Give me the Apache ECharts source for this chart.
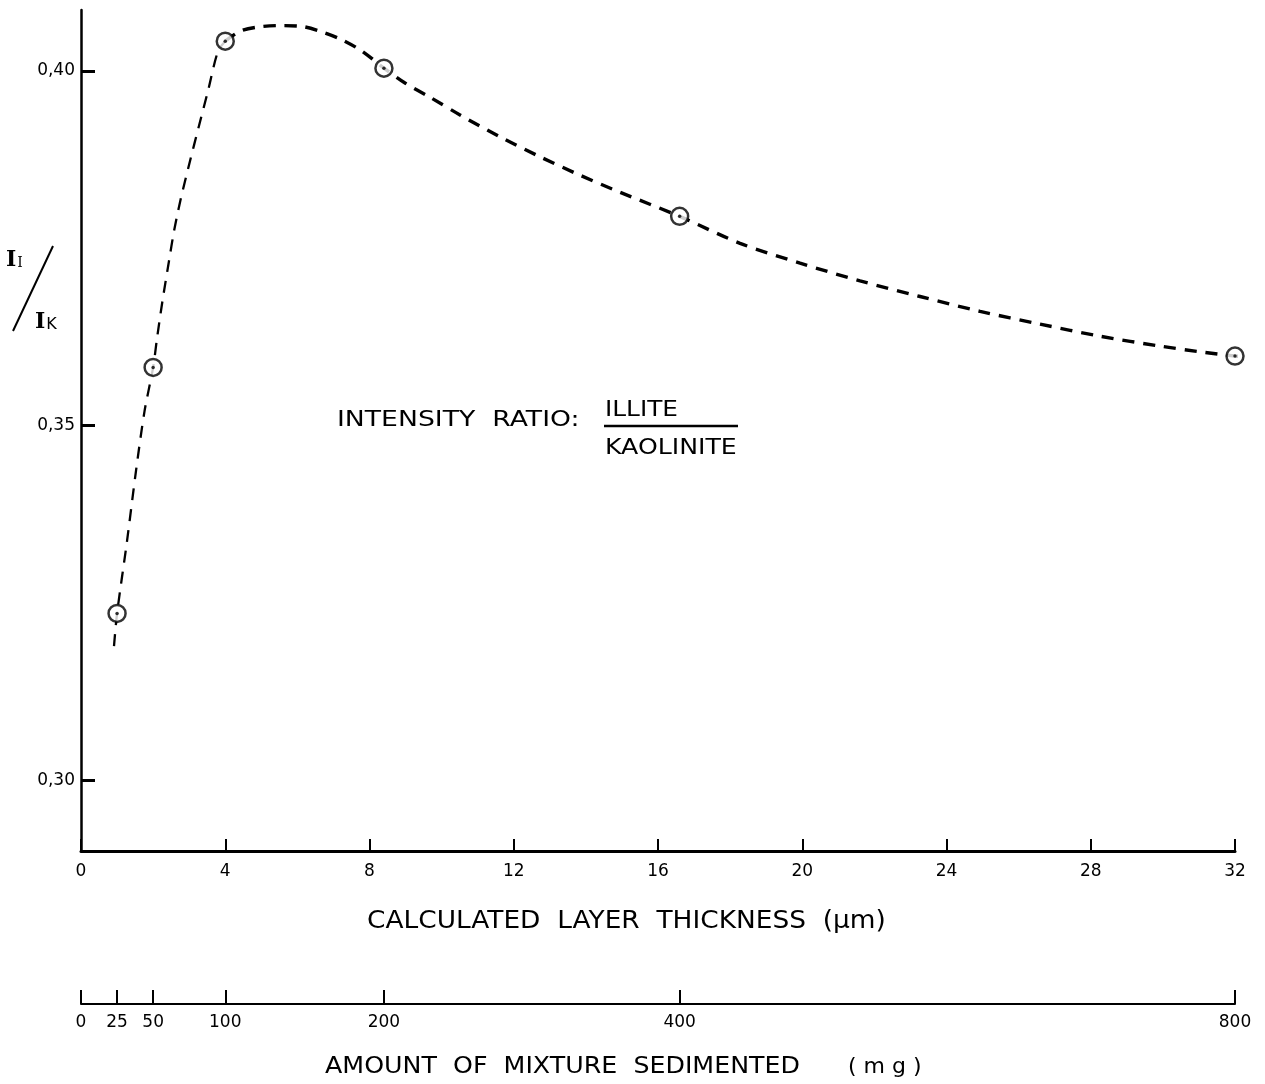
<!DOCTYPE html>
<html>
<head>
<meta charset="utf-8">
<script src="https://cdn.jsdelivr.net/npm/echarts@6/dist/echarts.min.js"></script>
<style>
  html, body { margin: 0; padding: 0; background: #fff; }
  #chart { width: 1265px; height: 1084px; }
</style>
</head>
<body>
<div id="chart"></div>
<script>
// Measured samples: layer thickness (µm), mass sedimented (mg), illite/kaolinite ratio
const thickness = [1, 2, 4, 8.4, 16.6, 32];
const massMg = [25, 50, 100, 200, 400, 800];
const ratio = [0.3235, 0.3582, 0.4042, 0.4004, 0.3795, 0.3598];

// Hand-drawn trend curve through the samples (thickness, ratio)
const curveX = [0.915, 1, 1.276, 1.525, 1.761, 2, 2.108, 2.26, 2.44, 2.579, 2.759,
                3.023, 3.258, 3.522, 3.799, 4,
                4.409, 4.909, 5.519, 6.101, 6.628, 7.238, 7.793, 8.4, 8.985, 9.678,
                10.51, 11.62, 12.729, 13.838, 14.947, 16.6, 18.275, 19.939, 21.603,
                23.267, 24.931, 26.595, 28.259, 29.923, 31.032, 32, 32.557];
const curveY = [0.3189, 0.3235, 0.3337, 0.3436, 0.3520, 0.3582, 0.3623, 0.3676, 0.3732, 0.3774, 0.3818,
                0.3873, 0.3920, 0.3972, 0.4028, 0.4042,
                0.4056, 0.4062, 0.4064, 0.4063, 0.4056, 0.4044, 0.4028, 0.4004, 0.3983, 0.3963,
                0.3938, 0.3907, 0.3879, 0.3853, 0.3829, 0.3795, 0.3757, 0.3729, 0.3704,
                0.3682, 0.3661, 0.3643, 0.3626, 0.3612, 0.3604, 0.3598, 0.3596];

// Axis ticks
const ratioTicks = [0.30, 0.35, 0.40];
const massTickPos = [0].concat(thickness);
const massTickLabels = [0].concat(massMg);

const FONT = 'DejaVu Sans';
const INK = '#000';

const pts = thickness.map((t, i) => [t, ratio[i]]);
const curve = curveX.map((x, i) => [x, curveY[i]]);
const rising = curve.filter(p => p[0] <= 4.0);
const falling = curve.filter(p => p[0] >= 4.0);

const chart = echarts.init(document.getElementById('chart'), null, { renderer: 'canvas' });

chart.setOption({
  backgroundColor: '#fff',
  animation: false,
  grid: [
    { left: 81, right: 30, top: 10, height: 841 },
    { left: 81, right: 30, top: 990, height: 14 }
  ],
  xAxis: [
    {
      gridIndex: 0, type: 'value', min: 0, max: 32, interval: 4,
      axisLine: { show: true, lineStyle: { color: INK, width: 3 } },
      axisTick: { show: true, inside: true, length: 12, lineStyle: { color: INK, width: 2 } },
      axisLabel: { show: true, margin: 12, color: INK, fontFamily: FONT, fontSize: 17,
                   showMinLabel: true, showMaxLabel: true },
      splitLine: { show: false }
    },
    {
      gridIndex: 1, type: 'value', min: 0, max: 32,
      axisLine: { show: true, onZero: false, lineStyle: { color: INK, width: 2 } },
      axisTick: { show: true, inside: true, length: 14, customValues: massTickPos,
                  lineStyle: { color: INK, width: 2 } },
      axisLabel: {
        show: true, margin: 10, color: INK, fontFamily: FONT, fontSize: 17,
        customValues: massTickPos,
        formatter: v => {
          const i = massTickPos.indexOf(v);
          return i >= 0 ? String(massTickLabels[i]) : '';
        }
      },
      splitLine: { show: false }
    }
  ],
  yAxis: [
    {
      gridIndex: 0, type: 'value', min: 0.29, max: 0.4086,
      axisLine: { show: true, lineStyle: { color: INK, width: 2.5 } },
      axisTick: { show: true, inside: true, length: 14, customValues: ratioTicks,
                  lineStyle: { color: INK, width: 3 } },
      axisLabel: { show: true, margin: 6, color: INK, fontFamily: FONT, fontSize: 17,
                   customValues: ratioTicks,
                   formatter: v => v.toFixed(2).replace('.', ',') },
      splitLine: { show: false }
    },
    {
      gridIndex: 1, type: 'value', min: 0, max: 1, show: false
    }
  ],
  series: [
    {
      type: 'line', xAxisIndex: 0, yAxisIndex: 0, data: rising,
      smooth: 0.3, symbol: 'none', silent: true, clip: false,
      lineStyle: { color: INK, width: 2.3, type: [12, 9] }
    },
    {
      type: 'line', xAxisIndex: 0, yAxisIndex: 0, data: falling,
      smooth: 0.3, symbol: 'none', silent: true, clip: false,
      lineStyle: { color: INK, width: 3.4, type: [12, 9] }
    },
    {
      type: 'scatter', xAxisIndex: 0, yAxisIndex: 0, data: pts,
      symbol: 'circle', symbolSize: 17, z: 5, clip: false,
      itemStyle: { color: '#fff', borderColor: INK, borderWidth: 2.5 }
    },
    {
      type: 'scatter', xAxisIndex: 0, yAxisIndex: 0, data: pts,
      symbol: 'circle', symbolSize: 3.5, z: 6, clip: false,
      itemStyle: { color: INK }
    }
  ],
  graphic: [
    // Y-axis title: I_I / I_K
    {
      type: 'text', left: 6, top: 249, z: 10,
      style: {
        text: '{a|I}{b|I}',
        rich: {
          a: { fontFamily: 'DejaVu Serif', fontSize: 22, fontWeight: 'bold', fill: INK },
          b: { fontFamily: 'DejaVu Serif', fontSize: 14, fill: INK, padding: [6, 0, 0, 1] }
        }
      }
    },
    {
      type: 'line', z: 10,
      shape: { x1: 13, y1: 331, x2: 53, y2: 246 },
      style: { stroke: INK, lineWidth: 2 }
    },
    {
      type: 'text', left: 35, top: 311, z: 10,
      style: {
        text: '{a|I}{b|K}',
        rich: {
          a: { fontFamily: 'DejaVu Serif', fontSize: 22, fontWeight: 'bold', fill: INK },
          b: { fontFamily: FONT, fontSize: 16, fill: INK, padding: [5, 0, 0, 1] }
        }
      }
    },
    // Annotation: intensity ratio illite / kaolinite
    {
      type: 'text', x: 337, y: 421, scaleX: 1.27, z: 10,
      style: { text: 'INTENSITY  RATIO:', fontFamily: FONT, fontSize: 21,
               fill: INK, verticalAlign: 'middle', align: 'left' }
    },
    {
      type: 'text', x: 605, y: 411, scaleX: 1.18, z: 10,
      style: { text: 'ILLITE', fontFamily: FONT, fontSize: 21,
               fill: INK, verticalAlign: 'middle', align: 'left' }
    },
    {
      type: 'line', z: 10,
      shape: { x1: 604, y1: 426, x2: 738, y2: 426 },
      style: { stroke: INK, lineWidth: 2.5 }
    },
    {
      type: 'text', x: 605, y: 449, scaleX: 1.2, z: 10,
      style: { text: 'KAOLINITE', fontFamily: FONT, fontSize: 21,
               fill: INK, verticalAlign: 'middle', align: 'left' }
    },
    // Axis titles
    {
      type: 'text', x: 367, y: 922, scaleX: 1.1, z: 10,
      style: { text: 'CALCULATED  LAYER  THICKNESS  (µm)', fontFamily: FONT, fontSize: 24,
               fill: INK, verticalAlign: 'middle', align: 'left' }
    },
    {
      type: 'text', x: 325, y: 1067, scaleX: 1.1, z: 10,
      style: { text: 'AMOUNT  OF  MIXTURE  SEDIMENTED', fontFamily: FONT, fontSize: 23,
               fill: INK, verticalAlign: 'middle', align: 'left' }
    },
    {
      type: 'text', x: 848, y: 1067, z: 10,
      style: { text: '( m g )', fontFamily: FONT, fontSize: 22,
               fill: INK, verticalAlign: 'middle', align: 'left' }
    }
  ]
});
</script>
</body>
</html>
